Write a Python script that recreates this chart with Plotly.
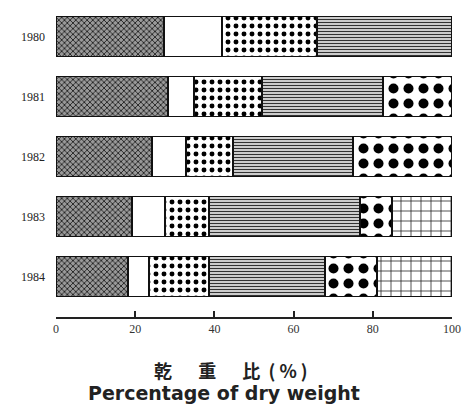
import plotly.graph_objects as go

years = ["1980", "1981", "1982", "1983", "1984"]
seg1 = [27.3, 28.3, 24.2, 19.2, 18.2]
seg2 = [14.6, 6.5, 8.6, 8.3, 5.3]
seg3 = [24.0, 17.2, 11.9, 11.1, 15.1]
seg4 = [34.1, 30.6, 30.3, 38.2, 29.3]
seg5 = [None, 17.4, 25.0, 8.0, 13.1]
seg6 = [None, None, None, 15.2, 19.0]
x_ticks = [0, 20, 40, 60, 80, 100]

series = [
    ("A", seg1, dict(shape="x", fgcolor="#222", bgcolor="#999", size=4, solidity=0.4, fgopacity=1)),
    ("B", seg2, dict(shape="", bgcolor="white")),
    ("C", seg3, dict(shape=".", fgcolor="black", bgcolor="white", size=8, solidity=0.3, fgopacity=1)),
    ("D", seg4, dict(shape="-", fgcolor="#333", bgcolor="white", size=3, solidity=0.5, fgopacity=1)),
    ("E", seg5, dict(shape=".", fgcolor="black", bgcolor="white", size=15, solidity=0.35, fgopacity=1)),
    ("F", seg6, dict(shape="+", fgcolor="#222", bgcolor="white", size=10, solidity=0.15, fgopacity=1)),
]

fig = go.Figure()
for name, vals, pat in series:
    fig.add_trace(go.Bar(
        y=years, x=vals, name=name, orientation="h",
        marker=dict(color="white", line=dict(color="#111", width=1.5), pattern=pat),
        hoverinfo="x+y",
    ))

fig.update_layout(
    template="none",
    width=463, height=410,
    margin=dict(l=56, r=11, t=6, b=93, autoexpand=False),
    barmode="stack", bargap=1/3,
    showlegend=False,
    plot_bgcolor="white", paper_bgcolor="white",
    font=dict(family="Liberation Serif", color="#222", size=11),
    xaxis=dict(range=[0, 100], tickvals=x_ticks, ticks="inside", ticklen=6,
               tickcolor="#222", tickwidth=1.5, showline=True, linecolor="#222",
               linewidth=1.5, showgrid=False, zeroline=False,
               tickfont=dict(family="Liberation Serif", size=12, color="#333")),
    yaxis=dict(type="category", range=[4.675, -0.508], showline=False,
               showgrid=False, ticks="", ticklabelstandoff=10, zeroline=False,
               tickfont=dict(family="Liberation Serif", size=12, color="#222")),
    annotations=[
        dict(text="<b>乾\u3000\u00a0\u00a0重\u3000\u00a0\u00a0比\u00a0\u00a0(\u00a0%\u00a0)</b>",
             xref="paper", yref="paper",
             x=0.442, y=-0.17, showarrow=False, xanchor="center", yanchor="middle",
             font=dict(family="Noto Sans CJK JP", size=18, color="#222")),
        dict(text="<b>Percentage of dry weight</b>", xref="paper", yref="paper", x=0.4255, y=-0.245,
             showarrow=False, xanchor="center", yanchor="middle",
             font=dict(family="DejaVu Sans", size=19, color="#222")),
    ],
)

fig.write_html("out.html")
